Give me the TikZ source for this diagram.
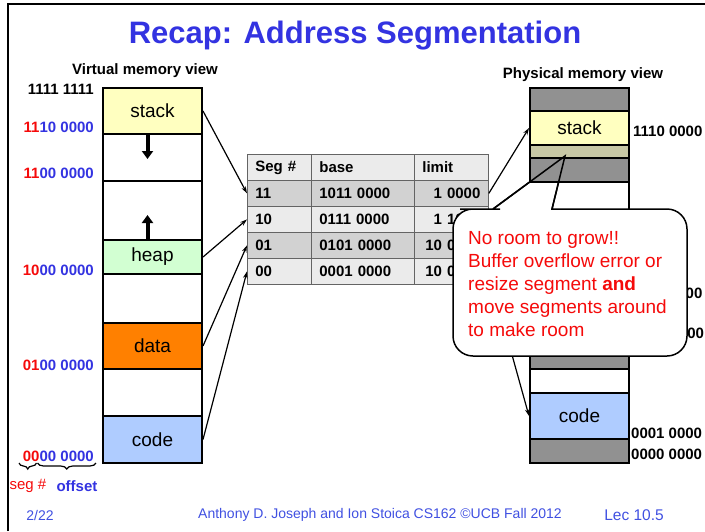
\documentclass[tikz,border=0pt]{standalone}
\usepackage{fontspec}
\setmainfont{Liberation Sans}
\usetikzlibrary{arrows.meta,decorations.pathreplacing}
\definecolor{slideblue}{RGB}{51,51,225}
\definecolor{footblue}{RGB}{64,80,225}
\definecolor{segred}{RGB}{245,10,10}
\definecolor{stackyellow}{RGB}{255,255,192}
\definecolor{heapgreen}{RGB}{210,255,210}
\definecolor{dataorange}{RGB}{255,128,0}
\definecolor{codeblue}{RGB}{175,204,255}
\definecolor{memgray}{RGB}{145,145,145}
\definecolor{freeolive}{RGB}{200,200,165}
\definecolor{tablight}{RGB}{235,235,235}
\definecolor{tabdark}{RGB}{210,210,210}
\definecolor{tabline}{RGB}{100,100,100}
\newcommand{\pxsize}[1]{\fontsize{#1}{#1}\selectfont}
\newcommand{\addr}[2]{{\color{segred}#1}{\color{slideblue}#2}}

\begin{document}
\begin{tikzpicture}[x=1pt, y=-1pt, every node/.style={inner sep=0pt},
  memblock/.style={draw,line width=2pt,minimum width=99pt,anchor=north west,font=\pxsize{19}},
  tabcell/.style={draw=tabline,line width=0.8pt,anchor=north west,minimum height=26pt,inner xsep=8pt,font=\pxsize{15}\bfseries},
  addrlbl/.style={font=\pxsize{15}\bfseries},
  segarrow/.style={line width=1.2pt,-{Stealth[length=7pt,width=4.5pt]}},
  growarrow/.style={line width=4pt,-{Triangle[length=8pt,width=11pt]}}]
\useasboundingbox (0,0) rectangle (705,531);
\draw[line width=2.5pt] (8,531) -- (8,4) -- (705,4);
\node[font=\pxsize{31}\bfseries,text=slideblue] (title) at (355,36) {Recap: Address Segmentation};

% virtual memory
\node[addrlbl] (vtitle) at (145,71) {Virtual memory view};
\node[memblock,fill=stackyellow,minimum height=46pt] (vstack) at (102,87) {stack};
\node[memblock,minimum height=47pt] (vgap1) at (102,133) {};
\node[memblock,minimum height=59pt] (vgap2) at (102,180) {};
\node[memblock,fill=heapgreen,minimum height=34pt] (vheap) at (102,239) {heap};
\node[memblock,minimum height=49pt] (vgap3) at (102,273) {};
\node[memblock,fill=dataorange,minimum height=46pt] (vdata) at (102,322) {data};
\node[memblock,minimum height=47pt] (vgap4) at (102,368) {};
\node[memblock,fill=codeblue,minimum height=47pt] (vcode) at (102,415) {code};
\draw[growarrow] ([xshift=-5pt]vstack.south) -- ++(0,24);
\draw[growarrow] ([xshift=-5pt]vheap.north) -- ++(0,-24);

\node[addrlbl,anchor=east] (a11) at (94,89) {1111 1111};
\node[addrlbl,anchor=east] (a10) at (94,127) {\addr{11}{10 0000}};
\node[addrlbl,anchor=east] (a9) at (94,173) {\addr{11}{00 0000}};
\node[addrlbl,anchor=east] (a8) at (94,270) {\addr{10}{00 0000}};
\node[addrlbl,anchor=east] (a4) at (94,365) {\addr{01}{00 0000}};
\node[addrlbl,anchor=east] (a0) at (94,456) {\addr{00}{00 0000}};
\draw[line width=1.2pt,decorate,decoration={brace,mirror,amplitude=6pt}] (19,463) -- (36.5,463);
\draw[line width=1.2pt,decorate,decoration={brace,mirror,amplitude=6pt}] (37.5,463) -- (96,463);
\node[font=\pxsize{15},text=segred] (segno) at (28,486) {seg \#};
\node[addrlbl,text=slideblue] (offset) at (77,486) {offset};

% segment table
\node[tabcell,fill=tablight,text width=48pt,align=left] (seg0) at (247,154) {Seg \#};
\node[tabcell,fill=tablight,text width=87pt,align=left] (base0) at (311,154) {base};
\node[tabcell,fill=tablight,text width=58pt,align=left] (lim0) at (414,154) {limit};
\foreach \s/\b/\l/\c [count=\r] in {11/1011 0000/1 0000/tabdark, 10/0111 0000/1 1000/tablight,
    01/0101 0000/10 0000/tabdark, 00/0001 0000/10 0000/tablight} {
  \node[tabcell,fill=\c,text width=48pt,align=left] (seg\r) at (247,154+26*\r) {\s};
  \node[tabcell,fill=\c,text width=87pt,align=left] (base\r) at (311,154+26*\r) {\b};
  \node[tabcell,fill=\c,text width=58pt,align=right] (lim\r) at (414,154+26*\r) {\l};
}
\draw[segarrow] (vstack.east) -- (seg1.west);
\draw[segarrow] (vheap.east) -- (seg2.west);
\draw[segarrow] (vdata.east) -- (seg3.west);
\draw[segarrow] (vcode.east) -- (seg4.west);

% physical memory
\node[addrlbl] (ptitle) at (583,75) {Physical memory view};
\node[memblock,minimum height=164pt] (pmid) at (529,181) {};
\node[memblock,fill=memgray,minimum height=23pt] (pgray) at (529,345) {};
\node[memblock,minimum height=24pt] (pfree) at (529,368) {};
\node[memblock,fill=codeblue,minimum height=46pt] (pcode) at (529,392) {code};
\node[memblock,fill=memgray,minimum height=24pt] (pbot) at (529,438) {};
\node[addrlbl,anchor=west] (p7) at (633,293) {0111 0000};
\node[addrlbl,anchor=west] (p5) at (633,333) {0101 0000};
\node[addrlbl,anchor=west] (p1) at (631,433) {0001 0000};
\node[addrlbl,anchor=west] (p0) at (631,454) {0000 0000};
\draw[segarrow] (lim4.east) -- (pcode.west);

% callout
\draw[line width=1.5pt,fill=white,rounded corners=20pt] (453,280) |- (480,209) [sharp corners]
  -- (493,209) coordinate (nb1) -- (565,156) coordinate (ntip) -- (552,209) coordinate (nb2)
  -- (600,209) [rounded corners=20pt] -| (687,282) |- (453,356) -- cycle;
\node[font=\fontsize{19}{23}\selectfont,text=segred,align=left,anchor=north west] (note) at (468,231)
  {No room to grow!!\\Buffer overflow error or\\resize segment \textbf{and}\\move segments around\\to make room};

\node[memblock,fill=memgray,minimum height=23pt] (ptop) at (529,87) {};
\node[memblock,fill=stackyellow,minimum height=34pt] (pstack) at (529,110) {stack};
\node[memblock,fill=freeolive,minimum height=13pt] (pspare) at (529,144) {};
\node[memblock,fill=memgray,minimum height=24pt] (pgap) at (529,157) {};
\draw[line width=1.5pt] (nb1) -- (ntip) -- (nb2);
\node[addrlbl,anchor=west] (p14) at (633,131) {1110 0000};
\draw[segarrow] (lim1.east) -- (pstack.west);

% footer
\node[font=\pxsize{14},text=footblue] (date) at (40,515) {2/22};
\node[font=\pxsize{14},text=footblue] (credit) at (380,515) {Anthony D. Joseph and Ion Stoica CS162 ©UCB Fall 2012};
\node[font=\pxsize{15.5},text=footblue] (lec) at (634,515) {Lec 10.5};
\end{tikzpicture}
\end{document}
